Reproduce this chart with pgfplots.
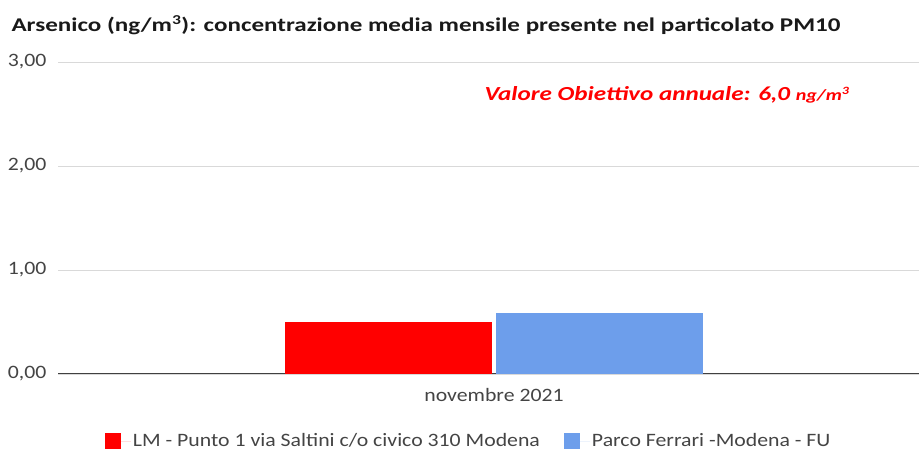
\documentclass[border=0pt]{standalone}
\usepackage{pgfplots}
\pgfplotsset{compat=1.18}
\usepackage{fontspec}
\setmainfont{Carlito}[FakeStretch=1.15]
\newfontfamily\boldwide{Carlito}[FakeStretch=1.26]
\newfontfamily\titlewide{Carlito}[FakeStretch=1.29]
\definecolor{barred}{HTML}{FF0000}
\definecolor{barblue}{HTML}{6D9EEB}
\definecolor{gridgray}{HTML}{D9D9D9}
\definecolor{txtgray}{HTML}{444444}
\begin{document}
\begin{tikzpicture}[x=1bp,y=1bp]
\path[use as bounding box] (0,0) rectangle (919,453);
\begin{axis}[
  at={(58bp,79bp)}, anchor=south west,
  scale only axis, width=861bp, height=312bp,
  ybar=4bp, bar width=207bp,
  xmin=-1.0128, xmax=0.9872,
  ymin=0, ymax=3,
  ytick={0,1,2,3},
  xtick=data, xticklabels={novembre 2021},
  major tick length=0pt,
  axis lines*=left,
  y axis line style={draw=none},
  x axis line style={draw=black!75, line width=1pt},
  ymajorgrids, grid style={gridgray, line width=0.9pt},
  yticklabel style={font=\fontsize{19}{22}\selectfont, text=txtgray, xshift=-8bp},
  xticklabel style={font=\fontsize{19}{22}\selectfont, text=txtgray, yshift=-11bp},
  /pgf/number format/.cd, use comma, fixed, fixed zerofill, precision=2, assume math mode=true,
  /pgfplots/.cd,
  legend columns=2,
  legend style={at={(0.477,-0.215)}, anchor=center, draw=none, fill=none,
    font=\fontsize{19}{22}\selectfont, text=txtgray,
    /tikz/every even column/.append style={column sep=22bp}},
  legend image code/.code={\fill[#1] (0bp,-8bp) rectangle (16bp,8bp); \path (0bp,0bp) -- (26bp,0bp);},
]
\addplot[fill=barred, draw=none] coordinates {(0,0.50)};
\addplot[fill=barblue, draw=none] coordinates {(0,0.59)};
\legend{LM - Punto 1 via Saltini c/o civico 310 Modena, Parco Ferrari -Modena - FU}
\end{axis}
\node[anchor=west, font=\titlewide\fontsize{19.5}{22}\selectfont\bfseries, text=black!90] at (8,428) {Arsenico (ng/m\textsuperscript{3}): concentrazione media mensile presente nel particolato PM10};
\node[anchor=west, font=\boldwide\fontsize{20}{22}\selectfont\bfseries\itshape, text=barred] at (481,358) {Valore Obiettivo annuale: 6,0 {\fontsize{16}{18}\selectfont ng/m\textsuperscript{3}}};
\end{tikzpicture}
\end{document}
